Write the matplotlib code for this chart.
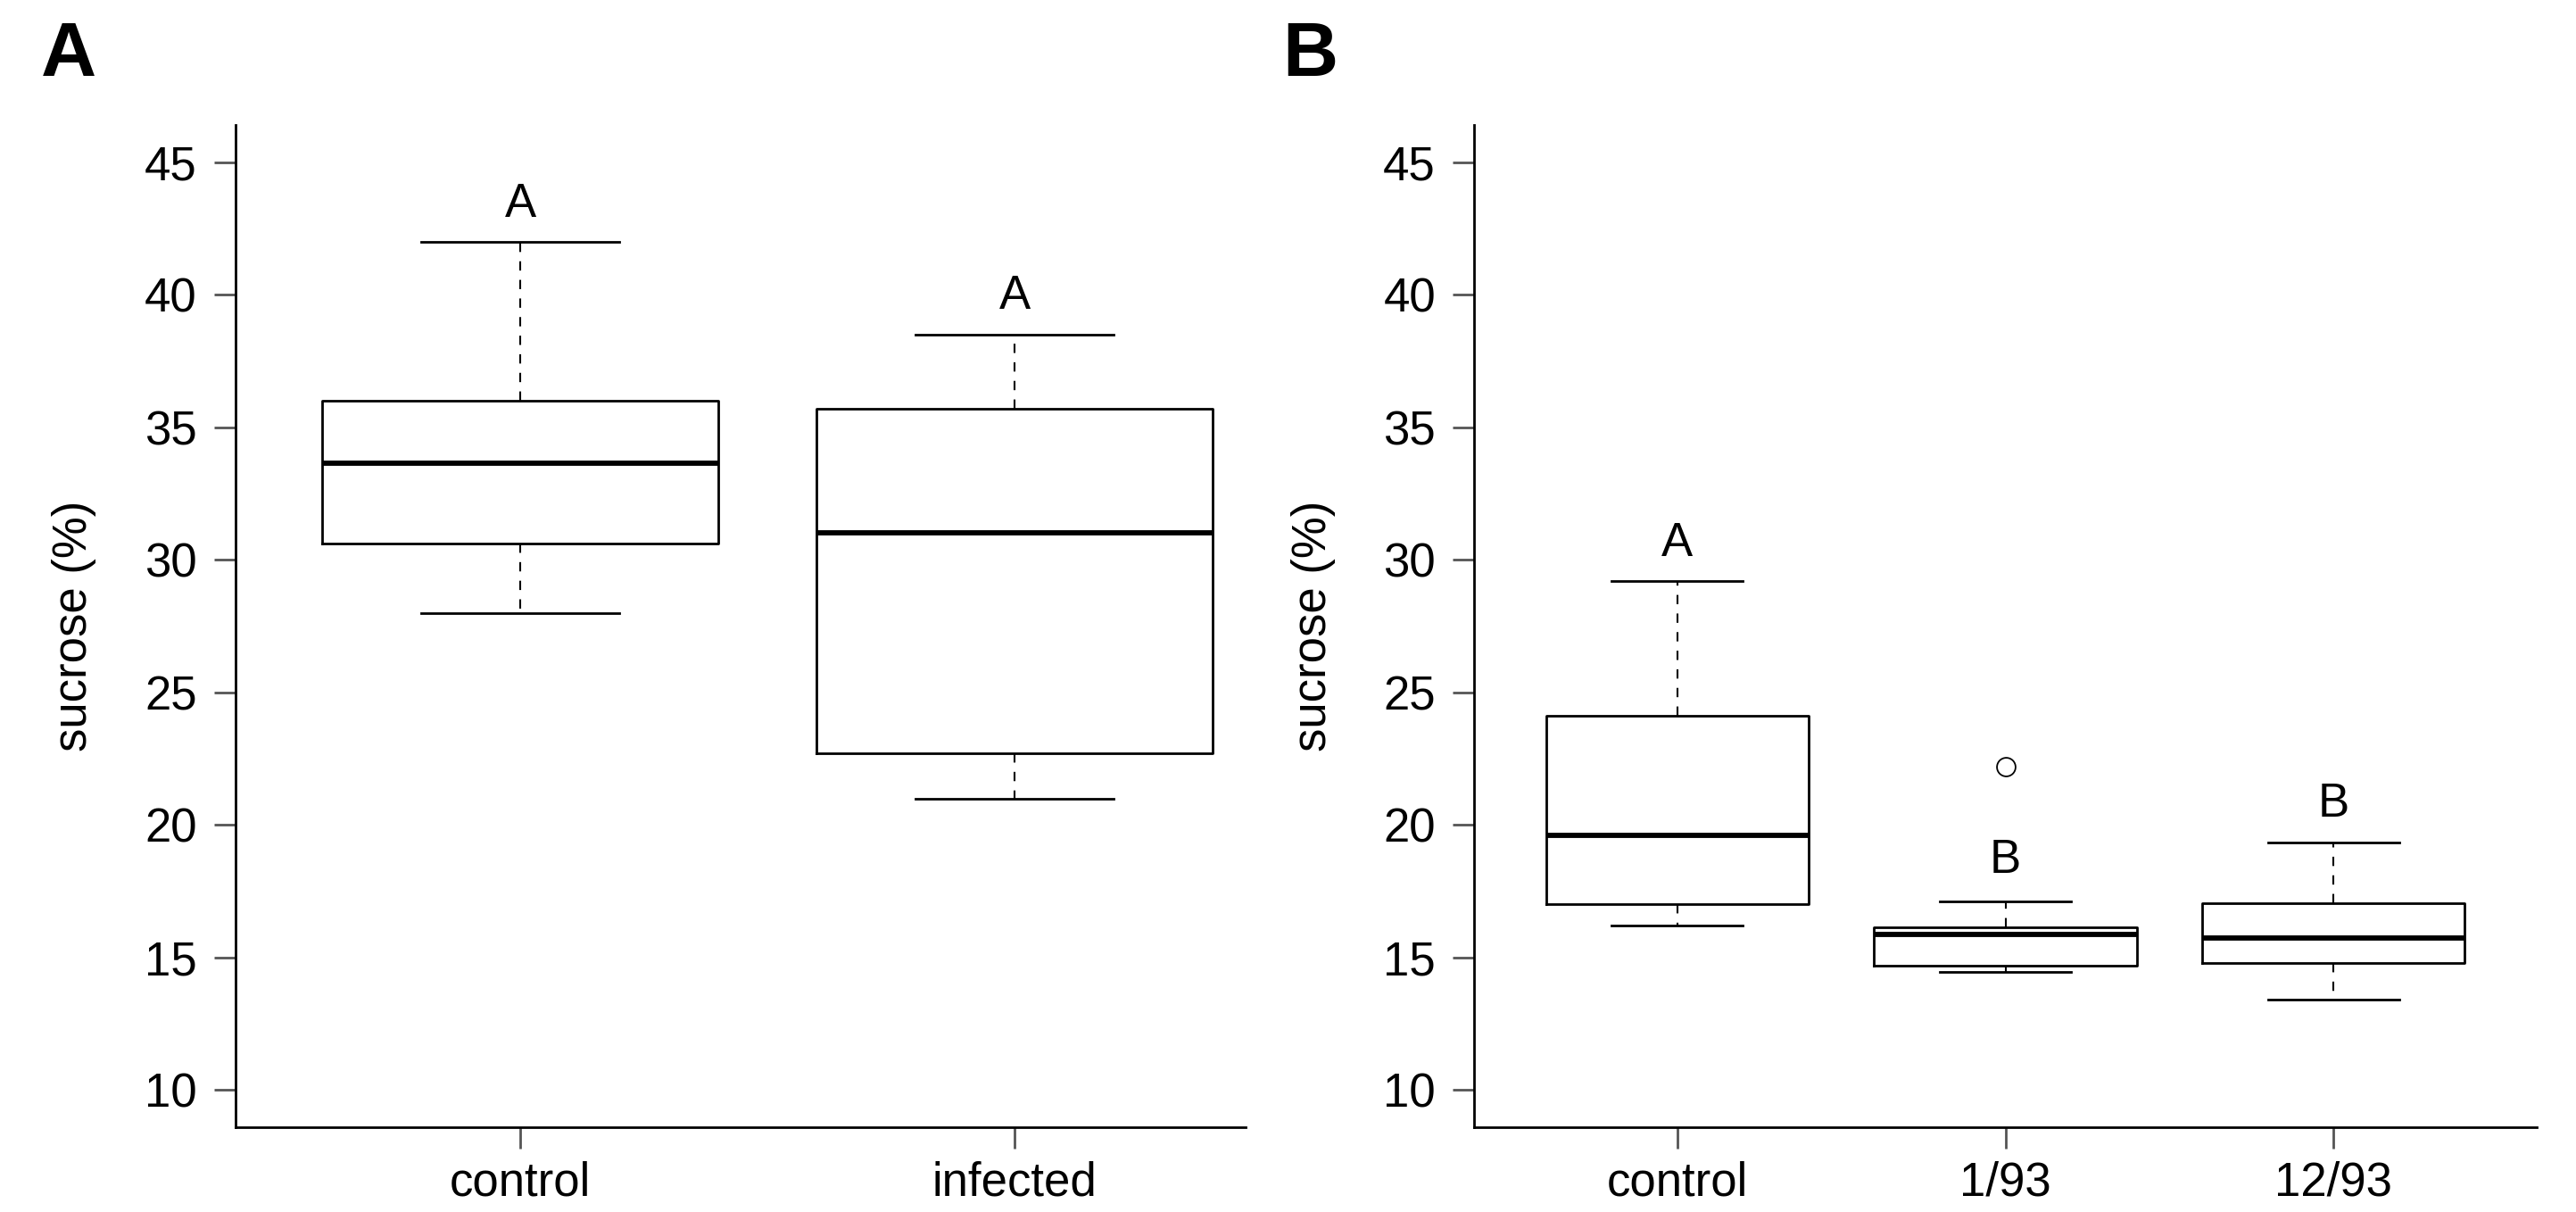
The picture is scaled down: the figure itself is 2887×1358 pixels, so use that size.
import matplotlib
matplotlib.use("Agg")
import matplotlib.pyplot as plt

plt.rcParams['font.family'] = ['Liberation Sans', 'DejaVu Sans']

# panel A: sucrose, control vs infected
groups_a = ["control", "infected"]
whislo_a = [28.0, 21.0]
q1_a = [30.6, 22.7]
med_a = [33.65, 31.0]
q3_a = [36.0, 35.7]
whishi_a = [42.0, 38.5]
fliers_a = [[], []]
letters_a = ["A", "A"]
letter_y_a = [43.4, 39.95]

# panel B: control vs two strains
groups_b = ["control", "1/93", "12/93"]
whislo_b = [16.2, 14.45, 13.4]
q1_b = [17.0, 14.7, 14.8]
med_b = [19.6, 15.86, 15.75]
q3_b = [24.1, 16.15, 17.05]
whishi_b = [29.2, 17.1, 19.35]
fliers_b = [[], [22.2], []]
letters_b = ["A", "B", "B"]
letter_y_b = [30.6, 18.65, 20.8]

yticks = [10, 15, 20, 25, 30, 35, 40, 45]

fig = plt.figure(figsize=(28.87, 13.58), dpi=100)
axA = fig.add_axes([0.0914, 0.0700, 0.4835 - 0.0914, 0.8969 - 0.0700])
axB = fig.add_axes([0.5722, 0.0700, 0.9848 - 0.5722, 0.8969 - 0.0700])


def draw_panel(ax, groups, lo, q1, med, q3, hi, fliers, letters, ly, xlim, ylab_x):
    stats = []
    for i in range(len(groups)):
        stats.append(dict(whislo=lo[i], q1=q1[i], med=med[i], q3=q3[i],
                          whishi=hi[i], fliers=fliers[i], label=groups[i]))
    ax.bxp(stats, positions=range(1, len(groups) + 1), widths=0.8,
           patch_artist=False,
           boxprops=dict(color='black', linewidth=2.0),
           medianprops=dict(color='black', linewidth=4.2),
           whiskerprops=dict(color='black', linewidth=1.5, linestyle=(0, (5, 5))),
           capprops=dict(color='black', linewidth=2.0),
           flierprops=dict(marker='o', markerfacecolor='none',
                           markeredgecolor='black', markersize=15,
                           markeredgewidth=1.3),
           capwidths=0.4)
    for i, t in enumerate(letters):
        ax.text(i + 1, ly[i], t, ha='center', va='center', fontsize=38)
    ax.set_xlim(*xlim)
    ax.set_ylim(8.6, 46.4)
    ax.set_yticks(yticks)
    ax.set_xticks(range(1, len(groups) + 1))
    ax.set_xticklabels(groups)
    ax.spines['top'].set_visible(False)
    ax.spines['right'].set_visible(False)
    for s in ['left', 'bottom']:
        ax.spines[s].set_linewidth(2.0)
    ax.tick_params(axis='both', direction='out', length=17, width=2.0,
                   labelsize=38, color='#555555')
    ax.tick_params(axis='y', pad=14)
    ax.tick_params(axis='x', pad=10)
    ax.set_ylabel("sucrose (%)", fontsize=38)
    ax.yaxis.set_label_coords(ylab_x, 0.5)


draw_panel(axA, groups_a, whislo_a, q1_a, med_a, q3_a, whishi_a, fliers_a,
           letters_a, letter_y_a, (0.424, 2.467), -0.138)
draw_panel(axB, groups_b, whislo_b, q1_b, med_b, q3_b, whishi_b, fliers_b,
           letters_b, letter_y_b, (0.38, 3.62), -0.130)

fig.text(0.0267, 0.9536, "A", fontsize=62, fontweight='bold', ha='center', va='center')
fig.text(0.5085, 0.9536, "B", fontsize=62, fontweight='bold', ha='center', va='center')

fig.savefig("out.png", dpi=100)
